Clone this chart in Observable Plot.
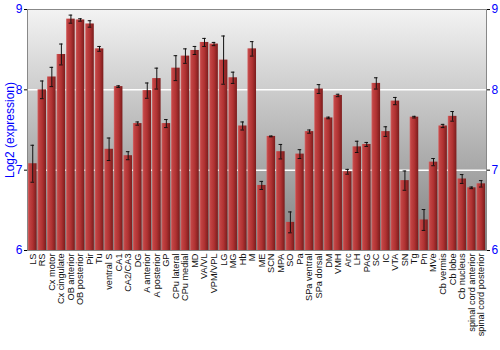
<!DOCTYPE html>
<html>
<head>
<meta charset="utf-8">
<script src="https://cdn.jsdelivr.net/npm/d3@7"></script>
<script src="https://cdn.jsdelivr.net/npm/@observablehq/plot@0.6"></script>
<style>
  html, body { margin: 0; padding: 0; background: #fff; }
</style>
</head>
<body>
<div id="chart"></div>
<script>
const categories = ["LS","RS","Cx motor","Cx cingulate","OB anterior","OB posterior","Pir","Tu","ventral S","CA1","CA2/CA3","DG","A anterior","A posterior","GP","CPu lateral","CPu medial","MD","VA/VL","VPM/VPL","LG","MG","Hb","M","ME","SCN","MPA","SO","Pa","SPa ventral","SPa dorsal","DM","VMH","Arc","LH","PAG","SC","IC","VTA","SN","Tg","Pn","MVe","Cb vermis","Cb lobe","Cb nucleus","spinal cord anterior","spinal cord posterior"];
const values = [7.08,8.00,8.16,8.44,8.88,8.87,8.82,8.51,7.26,8.04,7.18,7.58,7.99,8.14,7.58,8.27,8.42,8.49,8.59,8.57,8.37,8.15,7.55,8.51,6.81,7.42,7.23,6.35,7.20,7.48,8.01,7.65,7.93,6.98,7.29,7.32,8.08,7.48,7.86,6.87,7.66,6.38,7.10,7.55,7.67,6.89,6.78,6.83];
const errors = [0.23,0.11,0.12,0.13,0.05,0.015,0.04,0.03,0.14,0.01,0.05,0.02,0.095,0.13,0.05,0.155,0.09,0.05,0.05,0.02,0.30,0.07,0.05,0.09,0.05,0.005,0.09,0.13,0.055,0.02,0.055,0.01,0.015,0.03,0.07,0.025,0.07,0.06,0.045,0.12,0.01,0.13,0.045,0.02,0.06,0.055,0.01,0.04];
const yTicks = [6,7,8,9];

const data = categories.map((c, i) => ({region: c, value: values[i], lo: values[i] - errors[i], hi: values[i] + errors[i]}));

const chart = Plot.plot({
  width: 500,
  height: 350,
  marginTop: 9,
  marginBottom: 100,
  marginLeft: 27,
  marginRight: 14,
  style: {fontFamily: "'Liberation Sans', Arial, sans-serif", background: "#fff"},
  x: {domain: categories, padding: 0.1, round: false},
  y: {domain: [6, 9]},
  marks: [
    Plot.frame({fill: "url(#bgGrad)", stroke: null}),
    Plot.gridY(yTicks.slice(1, 3), {stroke: "#fff", strokeOpacity: 1, strokeWidth: 1.5}),
    Plot.barY(data, {x: "region", y1: 6, y2: "value", fill: "url(#barGrad)"}),
    Plot.ruleX(data, {x: "region", y1: "lo", y2: "hi", stroke: "#111", strokeWidth: 1}),
    Plot.tickY(data, {x: "region", y: "lo", stroke: "#111", insetLeft: 2.5, insetRight: 2.5}),
    Plot.tickY(data, {x: "region", y: "hi", stroke: "#111", insetLeft: 2.5, insetRight: 2.5}),
    Plot.frame({stroke: "#888", fill: "none"}),
    Plot.axisY({anchor: "left", ticks: yTicks, tickFormat: d => d, tickSize: 3, tickPadding: 2, fontSize: 12, stroke: "#000", fill: "blue", label: "Log2 (expression)", labelAnchor: "center", labelArrow: "none", labelOffset: 22}),
    Plot.axisY({anchor: "right", ticks: yTicks, tickFormat: d => d, tickSize: 3, tickPadding: 2, fontSize: 12, stroke: "#000", fill: "blue", label: null}),
    Plot.axisX({tickRotate: -90, tickSize: 0, tickPadding: 3, fontSize: 9.2, fill: "#111", label: null})
  ]
});

const svg = d3.select(chart);
const defs = svg.insert("defs", ":first-child");
const bg = defs.append("linearGradient").attr("id", "bgGrad").attr("x1", 0).attr("y1", 0).attr("x2", 0).attr("y2", 1);
bg.append("stop").attr("offset", "0%").attr("stop-color", "#f3f3f3");
bg.append("stop").attr("offset", "100%").attr("stop-color", "#808080");
const bar = defs.append("linearGradient").attr("id", "barGrad").attr("x1", 0).attr("y1", 0).attr("x2", 1).attr("y2", 0);
bar.append("stop").attr("offset", "0%").attr("stop-color", "#d46a6a");
bar.append("stop").attr("offset", "15%").attr("stop-color", "#c24444");
bar.append("stop").attr("offset", "55%").attr("stop-color", "#b03232");
bar.append("stop").attr("offset", "100%").attr("stop-color", "#7a1c1c");

document.getElementById("chart").appendChild(chart);
</script>
</body>
</html>
